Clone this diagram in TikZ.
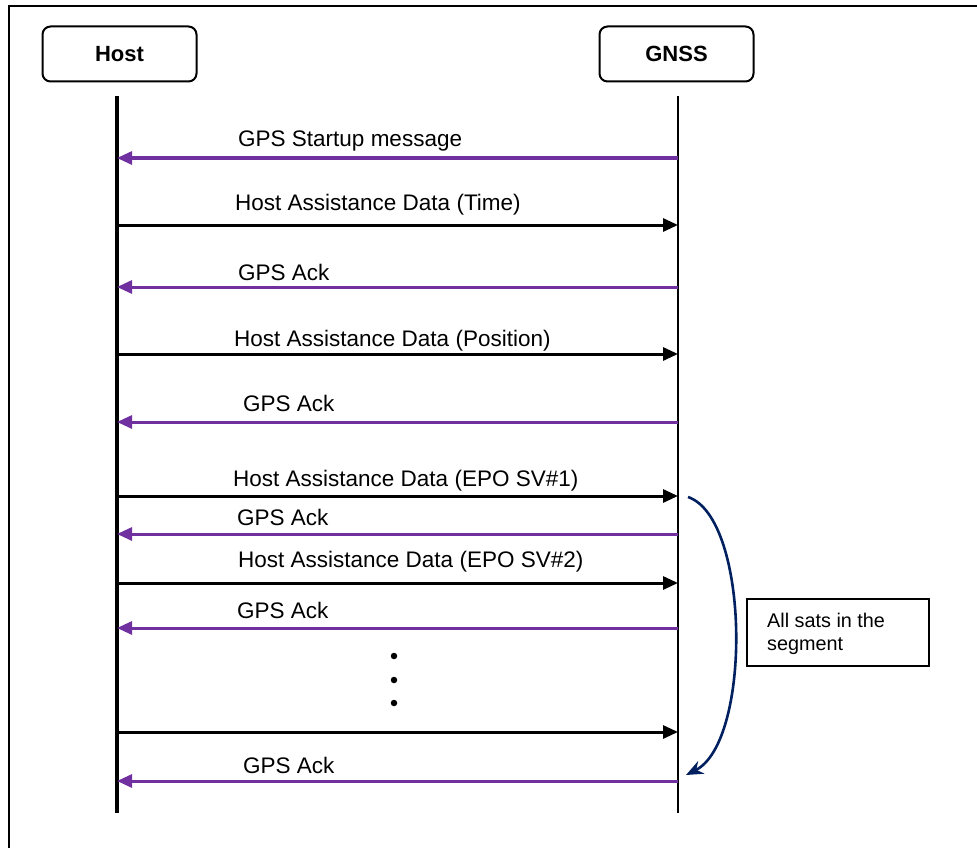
\documentclass[tikz,border=0pt]{standalone}
\usepackage{fontspec}
\setmainfont{Liberation Sans}
\usetikzlibrary{arrows.meta}
\definecolor{msgpurple}{RGB}{112,48,160}
\definecolor{navyarc}{RGB}{0,32,96}
\tikzset{
  actorbox/.style={draw, line width=2pt, rounded corners=8pt, minimum width=154pt, minimum height=55pt, font=\fontsize{22}{26}\selectfont\bfseries, inner sep=0pt},
  reqmsg/.style={draw=black, line width=3pt, -{Triangle[length=15pt,width=13pt]}},
  ackmsg/.style={draw=msgpurple, line width=3pt, -{Triangle[length=15pt,width=13pt]}},
  msglabel/.style={anchor=base west, inner sep=0pt, font=\fontsize{22.5}{27}\selectfont},
  lifeline/.style={line width=3.5pt},
  notebox/.style={draw, line width=1.5pt, minimum width=182pt, minimum height=67pt, inner sep=0pt},
  dotmark/.style={circle, fill=black, inner sep=0pt, minimum size=6.5pt}
}
\begin{document}
\begin{tikzpicture}[x=1pt,y=-1pt]
\useasboundingbox (0,0) rectangle (977,848);
% outer frame (left and top edges)
\draw[line width=1.8pt] (9,848) -- (9,6) -- (977,6);
% actors
\node[actorbox] (host) at (119.5,54) {Host};
\node[actorbox] (gnss) at (676.5,54) {GNSS};
% lifelines
\coordinate (hTop) at (117,96);
\coordinate (hBot) at (117,813);
\coordinate (gTop) at (678,96);
\coordinate (gBot) at (678,813);
\draw[lifeline] (hTop) -- (hBot);
\draw[lifeline, line width=2.6pt] (gTop) -- (gBot);
% message end points
\foreach \i/\y in {1/158,2/225,3/287,4/354,5/422,6/496,7/534,8/583,9/628,10/732,11/781}{
  \coordinate (h\i) at (117,\y);
  \coordinate (g\i) at (678,\y);
}
% messages
\draw[ackmsg] (g1) -- (h1);
\draw[reqmsg] (h2) -- (g2);
\draw[ackmsg] (g3) -- (h3);
\draw[reqmsg] (h4) -- (g4);
\draw[ackmsg] (g5) -- (h5);
\draw[reqmsg] (h6) -- (g6);
\draw[ackmsg] (g7) -- (h7);
\draw[reqmsg] (h8) -- (g8);
\draw[ackmsg] (g9) -- (h9);
\draw[reqmsg] (h10) -- (g10);
\draw[ackmsg] (g11) -- (h11);
% labels
\node[msglabel] (l1) at (238,146.5) {GPS Startup message};
\node[msglabel] (l2) at (235,210) {Host Assistance Data (Time)};
\node[msglabel] (l3) at (238,280) {GPS Ack};
\node[msglabel] (l4) at (234,346.5) {Host Assistance Data (Position)};
\node[msglabel] (l5) at (243,411) {GPS Ack};
\node[msglabel] (l6) at (233,486.5) {Host Assistance Data (EPO SV\#1)};
\node[msglabel] (l7) at (237,525.5) {GPS Ack};
\node[msglabel] (l8) at (238,567) {Host Assistance Data (EPO SV\#2)};
\node[msglabel] (l9) at (237,618) {GPS Ack};
\node[msglabel] (l11) at (243,773) {GPS Ack};
% continuation dots
\node[dotmark] (d1) at (394,656) {};
\node[dotmark] (d2) at (394,680) {};
\node[dotmark] (d3) at (394,703) {};
% loop arc
\coordinate (arcS) at (688,497);
\coordinate (arcE) at (686,775);
\draw[navyarc, line width=2.6pt, -{Stealth[length=17pt,width=14pt]}] (arcS) .. controls (750,518) and (752,742) .. (arcE);
% note
\node[notebox] (note) at (838,632.5) {};
\node[anchor=north west, inner sep=0pt, align=left, font=\fontsize{19.8}{23}\selectfont] (notetext) at (767,613) {All sats in the\\segment};
\end{tikzpicture}
\end{document}
